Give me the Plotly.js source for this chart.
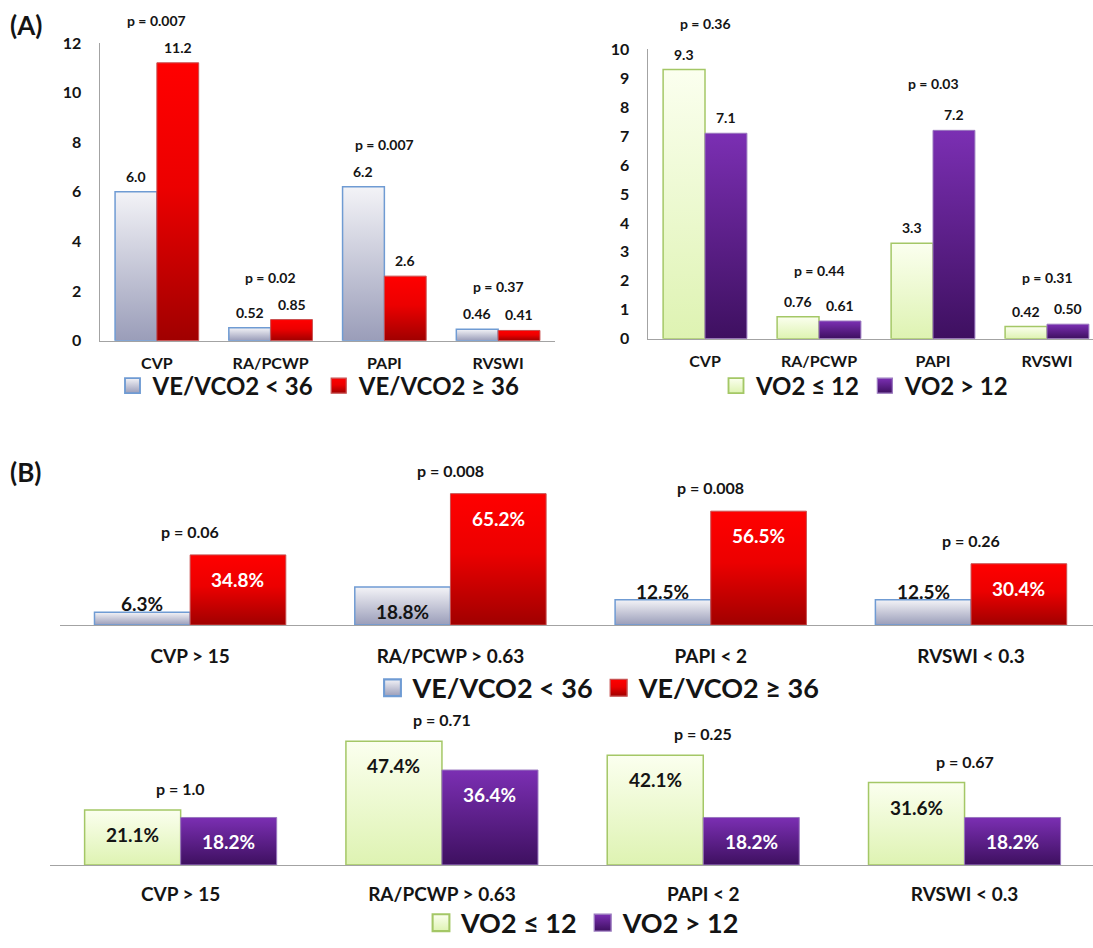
<!DOCTYPE html>
<html>
<head>
<meta charset="utf-8">
<script src="https://cdn.plot.ly/plotly-3.0.1.min.js"></script>
<style>
  html, body { margin: 0; padding: 0; background: #ffffff; }
  #chart { width: 1093px; height: 948px; }
</style>
</head>
<body>
<div id="chart"></div>
<script>
// ---------- data ----------
// (A) mean haemodynamic indices by exercise group
const catsA = ['CVP', 'RA/PCWP', 'PAPI', 'RVSWI'];
const veLowA = [6.0, 0.52, 6.2, 0.46];
const veHighA = [11.2, 0.85, 2.6, 0.41];
const pVeA = ['p = 0.007', 'p = 0.02', 'p = 0.007', 'p = 0.37'];
const vo2LowA = [9.3, 0.76, 3.3, 0.42];
const vo2HighA = [7.1, 0.61, 7.2, 0.50];
const pVoA = ['p = 0.36', 'p = 0.44', 'p = 0.03', 'p = 0.31'];
const ticksVeA = [0, 2, 4, 6, 8, 10, 12];
const ticksVoA = [0, 1, 2, 3, 4, 5, 6, 7, 8, 9, 10];

// (B) share of patients beyond each threshold (%)
const catsB = ['CVP > 15', 'RA/PCWP > 0.63', 'PAPI < 2', 'RVSWI < 0.3'];
const veLowB = [6.3, 18.8, 12.5, 12.5];
const veHighB = [34.8, 65.2, 56.5, 30.4];
const pVeB = ['p = 0.06', 'p = 0.008', 'p = 0.008', 'p = 0.26'];
const vo2LowB = [21.1, 47.4, 42.1, 31.6];
const vo2HighB = [18.2, 36.4, 18.2, 18.2];
const pVoB = ['p = 1.0', 'p = 0.71', 'p = 0.25', 'p = 0.67'];

const nameVeLow = 'VE/VCO2 < 36';
const nameVeHigh = 'VE/VCO2 ≥ 36';
const nameVoLow = 'VO2 ≤ 12';
const nameVoHigh = 'VO2 > 12';

// ---------- geometry & style ----------
const W = 1093, H = 948;
const FONT = 'Lato, "Open Sans", "DejaVu Sans", sans-serif';
const INK = '#141414';
const AXIS = '#a3a3a3';
const BARGAP = 0.265;
const fx = v => v / W;
const fy = v => 1 - v / H;

const P = {
  a1: { x0: 100, x1: 555, top: 43.5, bot: 345, ymax: 12, span: 4 },
  a2: { x0: 648, x1: 1093, top: 50, bot: 343, ymax: 10, span: 445 / 114 },
  b1: { x0: 60, x1: 1093, top: 633 - 142.8, bot: 633, ymax: 70, span: 1033 / 260.3 },
  b2: { x0: 50, x1: 1093, top: 744, bot: 876, ymax: 50, span: 1043 / 261.3 }
};
for (const k in P) {
  const p = P[k];
  p.step = (p.x1 - p.x0) / p.span;
  p.barW = p.step * (1 - BARGAP) / 2;
  p.ppu = (p.bot - p.top) / p.ymax;
}

const GRADS = {
  gGrey:   [[0, '#f3f3f7'], [1, '#9a9db9']],
  gRed:    [[0, '#ff0000'], [0.45, '#ec0000'], [1, '#a00000']],
  gGreen:  [[0, '#fbffef'], [1, '#def3b2']],
  gPurple: [[0, '#7b2fb3'], [1, '#3e1060']]
};
const STYLE = {
  gGrey:   { color: '#c9cad9', line: { color: '#6f9bd3', width: 1.5 } },
  gRed:    { color: '#e00000', line: { color: '#c85050', width: 1 } },
  gGreen:  { color: '#eef9d4', line: { color: '#a4c766', width: 1.5 } },
  gPurple: { color: '#5c2088', line: { color: '#9a78bf', width: 1 } }
};

function bar(name, cats, vals, ax, legend, grad) {
  return {
    type: 'bar', name: name, x: cats, y: vals,
    xaxis: 'x' + ax, yaxis: 'y' + ax, legend: legend, meta: grad,
    marker: { color: STYLE[grad].color, line: STYLE[grad].line },
    hoverinfo: 'skip'
  };
}

// each panel carries its own legend
const traces = [
  bar(nameVeLow, catsA, veLowA, '', 'legend', 'gGrey'),
  bar(nameVeHigh, catsA, veHighA, '', 'legend', 'gRed'),
  bar(nameVoLow, catsA, vo2LowA, '2', 'legend2', 'gGreen'),
  bar(nameVoHigh, catsA, vo2HighA, '2', 'legend2', 'gPurple'),
  bar(nameVeLow, catsB, veLowB, '3', 'legend3', 'gGrey'),
  bar(nameVeHigh, catsB, veHighB, '3', 'legend3', 'gRed'),
  bar(nameVoLow, catsB, vo2LowB, '4', 'legend4', 'gGreen'),
  bar(nameVoHigh, catsB, vo2HighB, '4', 'legend4', 'gPurple')
];

// ---------- annotations ----------
const ann = [];
function letter(txt, yPx) {
  ann.push({ xref: 'paper', yref: 'paper', x: fx(8), y: fy(yPx), xanchor: 'left', yanchor: 'middle',
    text: txt, showarrow: false, font: { family: FONT, size: 26, weight: 700, color: INK } });
}
letter('(A)', 25);
letter('(B)', 478);

const fmtA = v => (v >= 1 ? v.toFixed(1) : v.toFixed(2));
const fmtB = v => v.toFixed(1) + '%';

// labels for panel (A): value sits just above each bar
function labelsA(panel, ax, cats, vals, side) {
  vals.forEach((v, i) => ann.push({
    xref: 'x' + ax, yref: 'y' + ax, x: cats[i], y: v, xshift: side * panel.barW / 2,
    yanchor: 'bottom', yshift: 5, showarrow: false, text: fmtA(v),
    font: { family: FONT, size: 14, weight: 700, color: INK }
  }));
}
// labels for panel (B): inside the top of the bar when it fits, otherwise above it
function labelsB(panel, ax, cats, vals, side, insideColor) {
  vals.forEach((v, i) => {
    const fits = v * panel.ppu > 30;
    ann.push({
      xref: 'x' + ax, yref: 'y' + ax, x: cats[i], y: v, xshift: side * panel.barW / 2,
      yanchor: fits ? 'top' : 'bottom', yshift: fits ? -11 : -5, showarrow: false, text: fmtB(v),
      font: { family: FONT, size: 19, weight: 700, color: fits ? insideColor : INK }
    });
  });
}
function pvals(ax, cats, a, b, texts, lift, size) {
  texts.forEach((t, i) => ann.push({
    xref: 'x' + ax, yref: 'y' + ax, x: cats[i], y: Math.max(a[i], b[i]),
    yanchor: 'bottom', yshift: lift, showarrow: false, text: t,
    font: { family: FONT, size: size, weight: 700, color: INK }
  }));
}

labelsA(P.a1, '', catsA, veLowA, -1);
labelsA(P.a1, '', catsA, veHighA, 1);
labelsA(P.a2, '2', catsA, vo2LowA, -1);
labelsA(P.a2, '2', catsA, vo2HighA, 1);
pvals('', catsA, veLowA, veHighA, pVeA, 32, 14);
pvals('2', catsA, vo2LowA, vo2HighA, pVoA, 36, 14);

labelsB(P.b1, '3', catsB, veLowB, -1, INK);
labelsB(P.b1, '3', catsB, veHighB, 1, '#ffffff');
labelsB(P.b2, '4', catsB, vo2LowB, -1, INK);
labelsB(P.b2, '4', catsB, vo2HighB, 1, '#ffffff');
pvals('3', catsB, veLowB, veHighB, pVeB, 12, 16);
pvals('4', catsB, vo2LowB, vo2HighB, pVoB, 10, 16);

// ---------- axes ----------
function xAxis(p, anchor, size, standoff) {
  return {
    domain: [fx(p.x0), fx(p.x1)], anchor: anchor, type: 'category',
    range: [-0.5, -0.5 + p.span], fixedrange: true,
    showline: true, linecolor: AXIS, linewidth: 1.5, ticks: '', showgrid: false, zeroline: false,
    tickfont: { family: FONT, size: size, weight: 700, color: INK }, ticklabelstandoff: standoff
  };
}
function yAxis(p, anchor, tickvals) {
  const shown = !!tickvals;
  return {
    domain: [fy(p.bot), fy(p.top)], anchor: anchor, range: [0, p.ymax], fixedrange: true,
    visible: shown, showline: shown, linecolor: AXIS, linewidth: 1.5, ticks: '',
    showgrid: false, zeroline: false, tickmode: shown ? 'array' : 'auto', tickvals: tickvals || undefined,
    tickfont: { family: FONT, size: 16, weight: 700, color: INK }, ticklabelstandoff: 14
  };
}
function legendAt(xPx, yPx, size) {
  return {
    x: fx(xPx), y: fy(yPx), xanchor: 'center', yanchor: 'middle', orientation: 'h',
    bgcolor: 'rgba(0,0,0,0)', itemwidth: 30, traceorder: 'normal',
    font: { family: FONT, size: size, weight: 700, color: INK }
  };
}

const layout = {
  width: W, height: H, margin: { l: 0, r: 0, t: 0, b: 0 },
  paper_bgcolor: '#ffffff', plot_bgcolor: 'rgba(0,0,0,0)',
  barmode: 'group', bargap: BARGAP, bargroupgap: 0,
  font: { family: FONT, color: INK },
  xaxis: xAxis(P.a1, 'y', 16, 8),
  yaxis: yAxis(P.a1, 'x', ticksVeA),
  xaxis2: xAxis(P.a2, 'y2', 16, 8),
  yaxis2: yAxis(P.a2, 'x2', ticksVoA),
  xaxis3: xAxis(P.b1, 'y3', 19, 14),
  yaxis3: yAxis(P.b1, 'x3', null),
  xaxis4: xAxis(P.b2, 'y4', 19, 12),
  yaxis4: yAxis(P.b2, 'x4', null),
  legend: legendAt(319, 391, 24),
  legend2: legendAt(865, 391, 24),
  legend3: legendAt(599, 697, 27),
  legend4: legendAt(583, 935, 27),
  annotations: ann,
  showlegend: true
};

// vertical gradient fills for bars and legend swatches
function applyGradients(gd) {
  const NS = 'http://www.w3.org/2000/svg';
  const svg = gd.querySelector('svg.main-svg');
  let defs = svg.querySelector('defs');
  if (!defs) { defs = document.createElementNS(NS, 'defs'); svg.insertBefore(defs, svg.firstChild); }
  Object.keys(GRADS).forEach(id => {
    const lg = document.createElementNS(NS, 'linearGradient');
    lg.setAttribute('id', id);
    lg.setAttribute('x1', '0'); lg.setAttribute('y1', '0');
    lg.setAttribute('x2', '0'); lg.setAttribute('y2', '1');
    GRADS[id].forEach(([off, col]) => {
      const s = document.createElementNS(NS, 'stop');
      s.setAttribute('offset', off);
      s.setAttribute('stop-color', col);
      lg.appendChild(s);
    });
    defs.appendChild(lg);
  });
  const traceOf = d => {
    if (!d) return null;
    if (d[0] && d[0].trace) return d[0].trace;
    if (d[0] && d[0][0] && d[0][0].trace) return d[0][0].trace;
    return null;
  };
  gd.querySelectorAll('.barlayer .trace').forEach(g => {
    const tr = traceOf(g.__data__);
    if (!tr || !tr.meta) return;
    g.querySelectorAll('.point path').forEach(p => { p.style.fill = 'url(#' + tr.meta + ')'; });
  });
  // legend swatches: same gradient, slightly enlarged around their own position
  gd.querySelectorAll('.traces').forEach(g => {
    const tr = traceOf(g.__data__);
    if (!tr || !tr.meta) return;
    const big = tr.xaxis === 'x3' || tr.xaxis === 'x4';
    g.querySelectorAll('.legendpoints path').forEach(p => {
      p.style.fill = 'url(#' + tr.meta + ')';
      const prev = p.getAttribute('transform') || '';
      p.setAttribute('transform', prev + (big ? ' scale(1.4)' : ' scale(1.25)'));
    });
  });
}

const gd = document.getElementById('chart');
const fontsReady = Promise.all([
  document.fonts.load('700 24px Lato'),
  document.fonts.load('400 24px Lato')
]).catch(() => null).then(() => document.fonts.ready);

fontsReady.then(() =>
  Plotly.newPlot(gd, traces, layout, { displayModeBar: false, staticPlot: true })
).then(applyGradients);
</script>
</body>
</html>
